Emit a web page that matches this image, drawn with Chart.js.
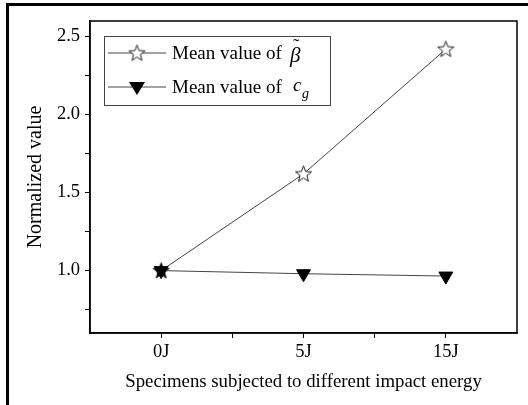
<!DOCTYPE html>
<html>

<head>
  <title>Normalized value vs impact energy</title>
  <meta charset="UTF-8">
  <script src="https://cdn.jsdelivr.net/npm/chart.js@4/dist/chart.umd.min.js"></script>
  <style>
    body { margin: 0; background: #fff; }
    #wrap { width: 528px; height: 405px; position: relative; }
  </style>
</head>

<body>
  <div id="wrap"><canvas id="myChart"></canvas></div>
  <script>
    var categories = ['0J', '5J', '15J'];
    var betaValues = [1.0, 1.62, 2.42];
    var cgValues = [1.0, 0.98, 0.965];
    var yTicks = [0.75, 1.0, 1.25, 1.5, 1.75, 2.0, 2.25, 2.5];
    var xTicks = [0, 0.5, 1, 1.5, 2];

    var serif = '"Liberation Serif", "Times New Roman", serif';

    // five point star used as point style
    function makeStar(size, fill) {
      var c = document.createElement('canvas');
      c.width = size; c.height = size;
      var g = c.getContext('2d');
      var cx = size / 2, cy = size / 2 + 0.5, R = size / 2 - 1, r = R * 0.42;
      g.beginPath();
      for (var i = 0; i < 10; i++) {
        var rad = i % 2 == 0 ? R : r;
        var a = -Math.PI / 2 + i * Math.PI / 5;
        var px = cx + rad * Math.cos(a), py = cy + rad * Math.sin(a);
        if (i == 0) g.moveTo(px, py); else g.lineTo(px, py);
      }
      g.closePath();
      g.fillStyle = fill;
      g.fill();
      g.strokeStyle = '#222';
      g.lineWidth = 1;
      g.stroke();
      return c;
    }
    var star = makeStar(19, '#fff');
    var solidStar = makeStar(19, '#000');

    function toPoints(vals) {
      return vals.map(function (v, i) { return { x: i, y: v }; });
    }

    var framePlugin = {
      id: 'frame',
      afterDraw: function (chart) {
        var ctx = chart.ctx, a = chart.chartArea;
        ctx.save();
        // plot box
        ctx.strokeStyle = '#000';
        ctx.lineWidth = 1.5;
        ctx.strokeRect(a.left, a.top, a.right - a.left, a.bottom - a.top);
        // outer picture frame (left + top)
        ctx.lineWidth = 3;
        ctx.beginPath();
        ctx.moveTo(7.5, 405);
        ctx.lineTo(7.5, 4.5);
        ctx.lineTo(528, 4.5);
        ctx.stroke();

        // legend
        var lx = 104, ly = 36, lw = 226, lh = 69;
        ctx.fillStyle = '#fff';
        ctx.fillRect(lx, ly, lw, lh);
        ctx.strokeStyle = '#444';
        ctx.lineWidth = 1;
        ctx.strokeRect(lx + 0.5, ly + 0.5, lw, lh);
        var rows = [ly + 17, ly + 51];
        ctx.strokeStyle = '#444';
        rows.forEach(function (y) {
          ctx.beginPath();
          ctx.moveTo(lx + 4, y);
          ctx.lineTo(lx + 62, y);
          ctx.stroke();
        });
        ctx.drawImage(star, lx + 33 - star.width / 2, rows[0] - star.height / 2);
        ctx.fillStyle = '#000';
        ctx.beginPath();
        ctx.moveTo(lx + 25, rows[1] - 5);
        ctx.lineTo(lx + 41, rows[1] - 5);
        ctx.lineTo(lx + 33, rows[1] + 8);
        ctx.closePath();
        ctx.fill();

        ctx.textBaseline = 'middle';
        ctx.textAlign = 'left';
        ctx.font = '19px ' + serif;
        ctx.fillText('Mean value of', lx + 68, rows[0] + 1);
        ctx.fillText('Mean value of', lx + 68, rows[1] + 1);
        ctx.font = 'italic 21px ' + serif;
        ctx.fillText('\u03b2', lx + 186, rows[0] + 3);
        ctx.font = '19px ' + serif;
        ctx.fillText('\u02dc', lx + 189, rows[0] - 6);
        ctx.font = 'italic 19px ' + serif;
        ctx.fillText('c', lx + 189, rows[1] - 1);
        ctx.font = 'italic 14px ' + serif;
        ctx.fillText('g', lx + 198, rows[1] + 7);
        ctx.restore();
      }
    };

    var ctx = document.getElementById('myChart').getContext('2d');
    var chart = new Chart(ctx, {
      type: 'line',
      data: {
        datasets: [{
          label: 'Mean value of beta',
          data: toPoints(betaValues),
          borderColor: '#444',
          borderWidth: 1,
          pointStyle: [solidStar, star, star],
          order: 2
        }, {
          label: 'Mean value of cg',
          data: toPoints(cgValues),
          borderColor: '#444',
          borderWidth: 1,
          pointStyle: 'triangle',
          pointRotation: 180,
          pointRadius: 8,
          pointBackgroundColor: '#000',
          pointBorderColor: '#000',
          order: 1
        }]
      },
      plugins: [framePlugin],
      options: {
        responsive: true,
        maintainAspectRatio: false,
        animation: false,
        layout: { padding: { top: 21, right: 11, left: 0, bottom: 0 } },
        plugins: {
          legend: { display: false },
          tooltip: { enabled: false }
        },
        scales: {
          x: {
            type: 'linear',
            min: -0.5,
            max: 2.5,
            afterBuildTicks: function (s) {
              s.ticks = xTicks.map(function (v) { return { value: v }; });
            },
            afterFit: function (s) { s.height = 72; },
            grid: { drawOnChartArea: false, tickLength: 5, color: '#000' },
            border: { color: '#000', width: 1.5 },
            ticks: {
              autoSkip: false,
              maxRotation: 0,
              padding: 3,
              color: '#000',
              font: { family: serif, size: 18.5 },
              callback: function (v) { return Number.isInteger(v) ? categories[v] : ''; }
            },
            title: {
              display: true,
              text: 'Specimens subjected to different impact energy',
              color: '#000',
              font: { family: serif, size: 18.8 },
              padding: { top: 0, bottom: 12 }
            }
          },
          y: {
            min: 0.6,
            max: 2.6,
            afterBuildTicks: function (s) {
              s.ticks = yTicks.map(function (v) { return { value: v }; });
            },
            afterFit: function (s) { s.width = 90; },
            grid: { drawOnChartArea: false, tickLength: 5, color: '#000' },
            border: { color: '#000', width: 1.5 },
            ticks: {
              padding: 5,
              color: '#000',
              font: { family: serif, size: 18.5 },
              callback: function (v) { return (v * 2) % 1 == 0 ? v.toFixed(1) : ''; }
            },
            title: {
              display: true,
              text: 'Normalized value',
              color: '#000',
              font: { family: serif, size: 20 },
              padding: { top: 24, bottom: 0 }
            }
          }
        }
      }
    });
  </script>
</body>

</html>
